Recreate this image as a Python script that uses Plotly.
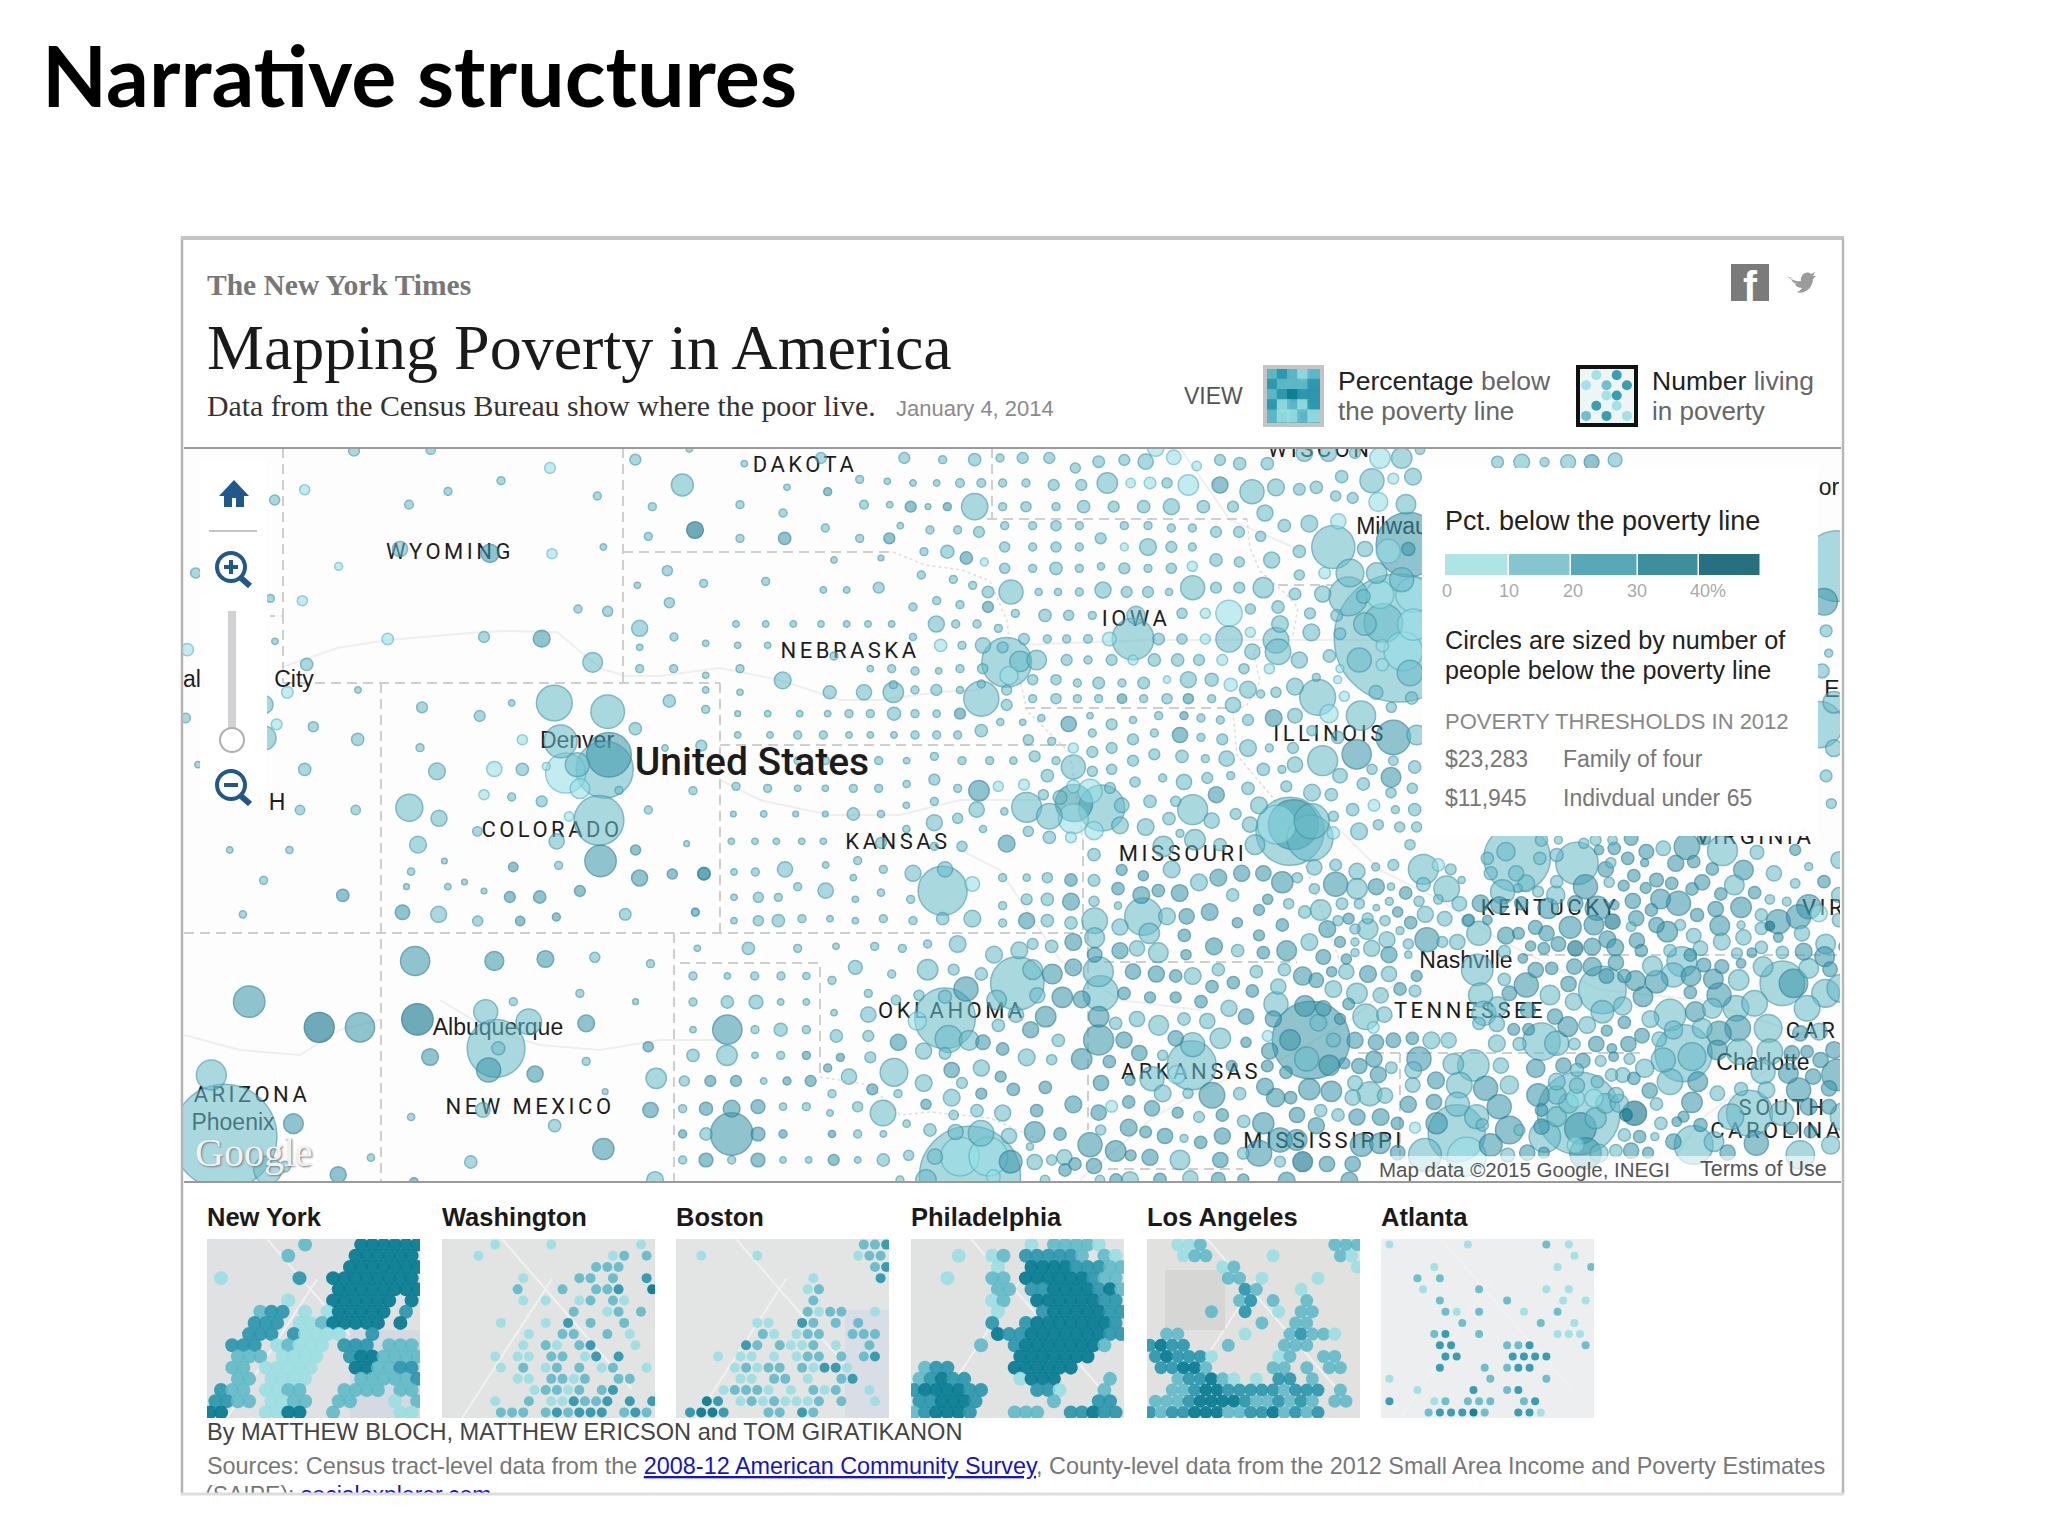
import plotly.graph_objects as go

# ---------------- circles: [map x, map y, radius, poverty tone] ----------------
tile_nw = [[510,8,12,2],[740,5,10,2],[1354,35,12,2],[1098,60,12,1],[951,98,8,2],[792,130,8,2],[675,170,9,2],[362,125,11,1],[272,156,11,2],[1240,144,8,2],[1405,176,8,2],[1393,265,8,2],[1258,297,6,2],[648,303,18,2],[918,316,22,3],[1104,317,11,1],[464,355,8,1],[35,375,11,2],[1360,412,6,2],[355,458,11,1],[259,451,8,2],[1182,483,8,2],[1271,490,11,2],[1367,541,19,2],[900,567,12,2],[1073,572,20,3],[611,573,13,1],[273,580,6,2],[1367,598,6,2],[1226,643,24,2],[368,649,14,2],[1367,662,8,2],[310,733,13,1],[522,726,6,2],[714,778,12,2],[983,765,6,2],[1111,765,46,2],[1271,791,43,2],[887,804,12,2],[1354,842,14,2],[278,829,12,1],[388,836,11,2],[1015,875,11,1],[521,874,14,2],[708,899,8,2],[1130,880,42,2],[1262,965,75,2],[1275,920,58,3],[1145,975,52,1],[1180,950,30,2],[1188,1022,24,1],[1305,1027,8,2],[240,770,22,2],[240,870,30,2],[1087,955,8,1],[362,964,14,2],[759,970,20,2],[931,963,18,1],[1015,964,14,2],[42,950,6,2],[900,1040,11,1],[983,1047,8,2],[1073,1060,12,2],[676,1079,34,2],[348,1086,10,2],[515,1086,10,2],[765,1111,19,2],[1155,1105,10,1],[1245,1117,65,2],[1393,1086,8,2],[880,1150,10,2],[702,1190,20,2],[1118,1180,18,2],[10,605,14,1],[5,810,10,2]]
tile_sw = [[104,300,6,2],[208,300,7,2],[478,333,5,2],[420,365,7,2],[598,351,10,3],[677,346,8,2],[750,333,40,3],[811,300,11,3],[818,384,19,3],[875,372,11,3],[930,372,14,3],[163,391,8,2],[412,410,5,2],[484,410,6,2],[513,396,5,2],[547,423,5,2],[592,441,12,3],[644,441,14,3],[714,423,12,3],[301,436,14,3],[405,487,17,3],[468,493,19,2],[127,493,7,2],[536,513,11,2],[610,513,10,3],[673,501,8,3],[793,493,13,2],[915,487,7,2],[427,633,37,3],[565,633,23,3],[654,627,20,3],[740,622,11,2],[837,641,8,2],[138,755,40,3],[714,730,8,2],[598,755,8,2],[811,755,5,2],[260,832,38,4],[331,832,37,3],[431,808,40,4],[550,785,30,2],[625,815,32,2],[725,820,20,3],[568,895,76,2],[572,895,15,2],[555,960,30,3],[453,921,20,3],[636,972,19,3],[725,934,8,2],[833,890,11,3],[847,985,25,2],[837,1080,18,3],[72,975,38,2],[95,1160,140,2],[170,1260,35,2],[215,1121,24,3],[420,1101,7,2],[758,1025,5,2],[545,1080,17,2],[670,1127,14,2],[755,1197,26,3],[524,1236,14,2],[350,1223,7,2],[293,1274,19,3],[200,1250,12,2],[425,1295,8,3],[845,1290,20,2]]
tile_plains = [[88,3,6,2],[253,47,6,2],[483,30,12,2],[733,30,12,2],[848,35,8,2],[944,35,14,2],[1020,30,8,2],[67,111,27,2],[381,118,6,2],[503,131,8,3],[599,94,8,2],[682,100,6,2],[759,105,6,2],[830,105,6,2],[900,105,9,2],[964,105,9,2],[1028,105,8,2],[240,170,8,2],[612,170,9,2],[689,170,6,2],[752,176,12,3],[804,176,5,2],[862,176,8,3],[944,176,33,2],[1028,176,8,2],[105,246,20,4],[369,195,8,2],[240,271,8,2],[374,271,14,3],[496,240,8,2],[599,271,8,2],[688,271,12,3],[721,233,6,2],[810,246,8,2],[893,246,8,2],[957,252,12,2],[1034,233,8,2],[792,311,8,2],[862,311,15,2],[919,330,14,3],[522,336,6,2],[663,330,5,2],[973,342,8,1],[1034,297,11,2],[1034,361,11,2],[22,368,11,2],[131,406,8,2],[317,400,8,2],[784,381,8,2],[880,394,8,2],[490,426,6,2],[560,426,6,2],[656,419,12,2],[938,412,8,2],[984,432,13,2],[1053,432,30,2],[28,464,11,2],[830,458,8,2],[759,477,8,2],[900,470,8,2],[984,477,12,3],[1066,496,8,2],[228,528,6,2],[317,528,6,2],[400,528,6,2],[483,528,6,2],[560,528,6,2],[624,528,6,2],[695,528,6,2],[829,528,19,2],[887,528,8,2],[951,528,8,2],[1015,541,8,2],[42,567,8,2],[137,586,6,2],[233,592,6,2],[323,592,6,2],[759,567,7,2],[842,592,14,1],[906,592,8,2],[969,592,18,2],[1040,643,65,2],[1047,683,22,1],[1028,598,12,2],[968,662,11,2],[522,624,8,2],[41,662,8,2],[240,662,8,2],[631,662,6,2],[695,662,8,2],[765,669,8,2],[836,669,6,2],[900,662,8,2],[137,682,6,2],[368,697,20,2],[28,759,14,2],[137,726,6,2],[240,733,6,2],[509,733,15,2],[612,733,18,2],[700,733,25,2],[700,710,8,2],[765,726,8,2],[829,726,12,2],[900,726,7,2],[964,752,45,2],[964,708,8,2],[1040,726,11,2],[137,784,8,2],[233,797,5,2],[323,797,6,2],[419,797,6,2],[503,797,6,2],[567,797,8,2],[631,797,8,2],[702,797,15,2],[765,797,8,2],[830,797,7,2],[900,797,12,3],[1040,771,12,2],[233,861,6,2],[330,861,6,2],[413,861,8,2],[490,861,8,2],[567,861,6,2],[631,861,6,2],[702,861,6,2],[765,861,8,2],[830,861,8,2],[893,861,8,2],[964,848,14,2],[1021,822,7,2],[15,900,6,2],[124,893,12,2],[413,938,7,2],[496,938,8,2],[656,938,8,2],[740,938,6,2],[823,925,8,2],[906,938,8,2],[989,938,8,2],[1060,938,7,2],[99,1028,8,2],[228,1015,8,2],[323,1021,8,2],[413,1021,6,2],[496,1021,6,2],[580,1021,8,2],[656,1021,8,2],[740,1008,7,2],[823,995,12,2],[893,1021,8,2],[957,1028,25,3],[1015,1015,11,1],[220,1098,5,2],[311,1098,6,2],[407,1098,5,2],[496,1098,5,2],[580,1098,14,2],[663,1098,7,2],[739,1072,6,2],[823,1060,8,2],[950,1085,18,2],[1033,1090,7,2],[893,1111,11,2],[823,1124,19,2],[739,1143,7,2],[969,1143,7,2],[80,1187,5,2],[214,1180,6,2],[285,1180,6,2],[349,1180,6,2],[425,1180,6,2],[490,1180,6,2],[663,1185,12,2],[906,1195,11,2],[1040,1187,20,3],[823,1195,8,2]]
tile_iowa = [[8,30,12,2],[88,30,12,2],[166,60,11,2],[236,41,13,2],[313,36,12,2],[377,41,18,2],[461,28,17,1],[530,54,10,1],[600,36,12,2],[659,47,14,2],[742,47,14,2],[407,0,20,1],[853,15,20,2],[925,15,20,2],[1005,15,12,2],[1080,30,25,1],[1145,30,25,2],[1200,5,10,2],[18,105,8,2],[101,111,12,2],[184,111,12,2],[262,105,25,2],[332,105,10,1],[390,105,13,1],[441,105,11,2],[505,111,25,1],[600,111,19,3],[696,131,30,2],[768,118,20,2],[838,124,13,2],[889,118,14,2],[965,86,14,2],[1056,98,30,2],[1120,92,12,1],[1179,86,20,2],[18,176,11,2],[108,176,8,2],[191,176,14,2],[281,176,12,2],[371,176,14,2],[454,176,19,2],[550,176,14,2],[639,176,12,2],[735,195,19,2],[947,144,11,2],[998,150,12,2],[1075,162,23,1],[1158,169,24,2],[38,233,8,2],[108,233,11,2],[178,233,8,2],[313,233,8,2],[384,233,8,2],[454,240,8,2],[517,240,8,2],[588,252,12,2],[657,252,12,2],[793,233,14,2],[868,227,20,2],[955,220,18,1],[242,271,12,2],[722,265,11,2],[38,297,8,2],[108,297,11,2],[178,297,8,2],[313,297,8,1],[384,297,20,2],[454,297,12,2],[517,297,8,2],[838,310,14,2],[940,297,56,2],[1165,290,85,3],[1105,310,30,1],[1165,303,15,3],[1035,303,18,2],[588,336,14,2],[658,342,11,2],[755,336,19,2],[38,361,8,2],[108,361,14,2],[178,361,8,2],[243,355,7,2],[313,361,12,2],[384,361,8,2],[454,361,11,2],[517,355,11,1],[838,381,11,2],[914,375,13,1],[990,375,35,2],[56,432,7,2],[114,432,7,2],[178,432,8,2],[249,426,19,2],[320,432,12,2],[384,432,12,2],[447,432,7,2],[518,419,30,2],[588,419,12,2],[658,419,12,2],[730,419,25,2],[825,438,13,2],[908,438,19,2],[985,445,50,2],[1030,445,16,2],[75,502,14,2],[146,502,11,2],[217,502,8,2],[348,502,22,2],[486,496,11,2],[556,496,11,1],[627,496,33,1],[691,483,11,2],[774,477,14,2],[870,496,12,2],[950,502,13,2],[12,573,12,2],[82,573,8,2],[140,573,8,2],[204,573,9,2],[268,573,16,1],[339,573,54,2],[416,573,13,2],[486,573,11,2],[556,573,11,1],[627,573,33,2],[691,553,11,1],[780,528,20,2],[768,577,32,2],[874,553,20,2],[960,557,13,2]]
tile_milwaukee = [[1135,570,172,2],[1145,395,30,2],[1070,375,25,2],[1080,440,35,1],[1180,440,45,1],[1090,525,50,2],[1035,528,28,2],[1150,610,50,1],[1018,636,30,2],[1170,675,32,2],[1087,650,14,1],[1087,593,14,1],[1180,530,40,1]]
tile_illinois = [[0,640,25,2],[50,636,24,2],[140,636,12,2],[204,636,8,2],[275,636,12,2],[339,636,11,1],[403,636,14,2],[473,636,14,2],[537,636,12,2],[607,636,12,1],[697,611,18,2],[774,611,32,2],[838,636,19,2],[928,624,14,2],[672,662,11,2],[748,662,11,1],[960,662,8,1],[38,695,11,2],[108,695,11,2],[172,705,8,2],[236,705,13,2],[306,705,8,2],[371,705,13,2],[441,695,7,1],[505,695,19,2],[575,695,15,2],[632,710,15,1],[684,725,20,2],[825,716,20,2],[889,688,8,2],[953,695,8,1],[722,738,8,2],[768,733,11,2],[893,748,46,2],[973,745,11,1],[1068,733,16,2],[1175,750,14,2],[38,752,8,2],[108,752,11,2],[172,752,8,2],[236,752,8,2],[306,752,10,3],[371,752,8,2],[441,752,11,2],[505,752,11,3],[575,752,8,2],[639,771,18,2],[927,797,22,1],[64,810,7,2],[146,828,18,3],[8,823,6,2],[210,803,6,2],[339,816,7,2],[416,803,8,2],[492,803,8,3],[543,810,8,2],[601,816,8,2],[684,816,12,2],[761,810,20,3],[825,803,17,2],[1023,803,37,2],[1114,778,11,2],[217,855,8,2],[275,829,12,2],[403,855,8,2],[480,861,18,3],[543,868,8,2],[1120,868,44,3],[1190,861,24,2],[25,875,11,2],[95,880,8,2],[339,874,12,2],[607,874,12,2],[876,848,11,2],[953,868,14,2],[160,900,11,1],[217,912,12,2],[275,900,12,2],[684,900,20,2],[748,900,8,2],[819,900,12,2],[44,925,12,2],[108,938,8,2],[160,957,30,2],[339,938,12,2],[403,919,12,2],[486,925,14,2],[556,932,8,2],[620,932,18,2],[908,938,38,2],[1010,919,37,3],[1120,938,10,2],[82,983,14,2],[217,970,11,2],[275,964,11,2],[730,964,14,2],[786,964,8,2],[825,950,18,2],[960,983,17,2],[1056,964,11,2],[1113,988,24,3],[1184,957,14,2],[12,1010,12,1],[345,1002,11,2],[428,990,8,2],[492,1002,18,2],[562,990,12,2],[632,983,8,2],[684,1021,14,2],[799,1015,12,2],[1030,1008,14,2],[1177,1021,11,2],[1113,1034,11,2],[20,1078,38,2],[88,1105,32,2],[160,1112,38,1],[162,1065,48,3],[210,1030,30,1],[160,1015,15,1],[120,1048,16,2],[245,1080,60,2],[270,1020,12,2],[305,1072,17,2],[300,1132,20,2],[222,1148,22,1],[70,1040,11,2],[390,1060,14,2],[467,1060,11,2],[518,1085,38,2],[589,1040,19,3],[647,1098,12,2],[717,1072,20,2],[447,1112,14,2],[377,1137,20,2],[575,1118,18,2],[690,1130,18,2],[810,1150,90,2],[770,1130,50,1],[820,1130,65,3],[875,1120,45,2],[870,1170,60,2],[940,1105,11,2],[876,1034,20,2],[934,1040,14,2],[998,1085,14,2],[1062,1072,13,1],[1126,1085,8,2],[1184,1085,14,2],[1075,1130,11,2],[1017,1150,20,2],[940,1155,14,1],[1139,1137,11,2],[1190,1137,11,2],[25,1150,11,2],[88,1168,14,2],[153,1168,12,1],[480,1156,8,2],[525,1175,25,2],[430,1195,25,2],[705,1190,24,2],[1170,1190,11,2],[600,1190,14,2]]
tile_edge = [[725,587,10,2],[762,587,14,2],[797,587,7,2],[833,587,13,2],[869,587,13,3],[905,582,12,2],[1245,820,70,2],[1225,900,25,3],[1228,965,10,2],[1232,1015,6,2],[1222,1055,12,2],[1240,1125,20,2],[1218,1175,45,2],[1240,1228,15,2],[1228,1290,10,2],[1236,1352,8,2]]
tile_oklahoma = [[72,100,14,3],[162,96,6,2],[226,96,8,2],[315,88,18,2],[437,75,6,2],[533,62,8,2],[610,88,8,2],[520,113,6,2],[699,100,19,2],[788,152,64,2],[795,88,18,2],[877,132,17,1],[968,113,8,2],[1040,113,7,2],[1102,113,11,2],[1173,120,14,3],[162,172,6,2],[235,172,11,2],[295,172,8,2],[353,140,8,2],[437,152,18,2],[526,178,6,2],[603,158,7,2],[692,178,8,2],[968,197,8,2],[1040,178,12,2],[1102,178,14,2],[1173,185,20,3],[46,216,8,2],[162,242,6,2],[235,242,11,2],[295,242,14,2],[366,236,8,2],[450,236,6,2],[526,242,6,2],[610,236,8,2],[699,242,8,2],[788,236,14,2],[877,236,20,2],[968,249,8,2],[1040,242,19,3],[1102,242,14,2],[1173,249,14,2],[52,325,6,2],[205,325,14,2],[353,325,8,2],[468,319,6,2],[584,319,8,2],[667,325,8,2],[743,312,8,2],[833,312,20,2],[942,344,20,2],[1018,331,20,2],[1058,312,12,2],[1115,319,14,2],[1180,306,20,3],[526,382,16,2],[743,389,25,2],[821,389,12,2],[904,402,14,2],[1012,430,70,2],[1058,389,24,2],[1117,402,24,3],[1180,382,20,3],[39,408,8,2],[142,408,6,2],[224,408,8,2],[303,408,8,2],[379,408,7,2],[456,421,8,2],[635,402,8,2],[858,447,30,3],[565,460,8,2],[648,480,10,2],[717,466,11,2],[795,470,15,2],[950,480,24,2],[1072,466,18,2],[1147,472,25,3],[39,486,8,2],[142,486,14,2],[228,486,16,2],[302,486,6,2],[379,486,6,2],[462,518,6,2],[565,524,18,2],[795,535,80,2],[712,543,22,1],[806,597,34,2],[867,601,24,2],[1008,524,18,2],[1097,530,25,3],[142,569,37,3],[225,569,8,2],[302,569,15,2],[379,569,8,2],[39,569,6,2],[955,556,14,2],[1052,569,19,3],[469,588,14,2],[565,588,12,2],[655,607,19,3],[909,607,17,3],[1135,601,14,2],[795,640,13,2],[141,646,25,2],[39,646,14,2],[225,646,6,2],[302,646,8,2],[379,646,8,3],[481,652,8,3],[571,652,12,2],[731,633,19,2],[968,627,14,3],[1040,652,20,2],[1115,659,11,2],[443,684,8,3],[642,697,35,2],[815,690,18,3],[904,684,19,2],[507,710,18,2],[962,710,12,3],[13,723,11,2],[91,723,12,3],[168,723,12,3],[251,723,6,2],[321,723,8,3],[392,723,12,3],[731,729,20,2],[846,729,12,2],[1000,748,14,3],[1096,742,14,3],[456,761,8,2],[577,748,12,3],[654,761,8,2],[904,761,12,3],[815,773,20,2],[8,806,8,2],[78,806,15,3],[155,806,20,3],[234,800,16,3],[309,800,7,2],[379,800,8,2],[533,800,11,2],[609,819,32,2],[738,793,11,3],[891,812,14,2],[968,819,19,2],[1070,812,14,3],[1180,793,20,3],[450,819,6,2],[821,825,10,2],[680,851,7,2],[155,882,55,3],[8,882,8,3],[78,882,14,2],[234,882,16,3],[309,882,8,3],[456,882,7,3],[533,882,8,2],[610,882,6,2],[750,870,14,2],[870,1010,135,2],[827,876,18,2],[903,880,32,2],[987,888,18,2],[1064,876,25,3],[1140,882,14,3],[840,950,50,1],[925,950,50,1],[765,950,18,2],[992,965,28,3],[738,1020,25,2],[940,1010,16,1],[8,960,8,2],[78,960,16,3],[155,960,8,2],[234,960,16,3],[309,960,6,2],[386,960,6,2],[461,960,12,3],[533,960,6,2],[610,960,14,2],[686,946,11,2],[1050,920,7,2],[1064,966,18,2],[1115,960,11,2],[1153,952,18,2],[1185,972,14,3],[1155,990,14,3],[660,1020,8,2],[1095,1020,10,2]]
tile_delta = [[42,44,14,2],[125,90,12,3],[190,107,11,3],[275,88,20,2],[357,127,20,2],[415,113,20,3],[485,100,19,3],[550,100,18,3],[607,127,26,3],[652,113,11,2],[703,82,18,2],[767,75,13,2],[831,94,19,2],[887,81,8,2],[940,75,12,2],[1030,88,38,2],[1075,75,14,1],[1112,88,12,2],[42,121,13,2],[114,146,14,3],[184,165,20,3],[235,152,14,3],[299,159,20,3],[458,165,14,2],[703,146,11,2],[767,133,30,3],[831,146,25,2],[889,140,19,3],[933,140,7,2],[977,159,14,3],[1030,133,16,2],[1100,146,32,2],[1145,120,7,2],[42,184,11,2],[114,197,7,2],[190,230,48,2],[261,229,20,2],[320,229,18,3],[389,216,20,3],[563,178,11,3],[626,191,11,2],[537,210,12,3],[674,216,14,2],[722,210,25,2],[786,191,13,2],[838,191,11,2],[928,184,8,2],[889,203,6,2],[953,216,11,3],[1017,184,11,2],[1075,178,10,2],[1138,191,17,2],[1036,223,19,2],[44,242,32,2],[120,261,19,2],[208,280,25,2],[472,248,11,3],[607,255,14,3],[774,242,11,2],[806,236,12,3],[742,267,20,3],[825,267,11,2],[863,267,25,2],[863,235,12,2],[915,242,11,2],[992,248,14,3],[1094,236,17,2],[1163,242,13,2],[44,293,24,2],[313,286,14,3],[537,286,12,3],[960,272,8,2],[120,332,19,3],[171,325,18,2],[235,338,24,2],[402,319,20,3],[473,332,14,2],[550,338,14,3],[620,332,24,3],[688,306,20,2],[780,306,12,3],[825,306,8,2],[921,299,19,2],[985,312,11,2],[1041,299,30,3],[1087,306,12,2],[1132,306,18,2],[875,325,19,2],[44,344,17,3],[318,344,11,3],[730,351,17,3],[799,357,11,3],[825,338,8,2],[927,344,19,3],[985,344,7,2],[55,395,38,2],[159,395,18,3],[229,402,19,3],[287,408,14,3],[338,408,20,2],[415,389,14,2],[529,395,14,2],[613,389,14,2],[668,408,22,3],[755,395,11,3],[799,395,18,2],[864,402,20,3],[927,402,18,2],[709,421,17,3],[1010,408,12,3],[62,460,45,2],[132,460,14,3],[210,472,12,3],[287,472,12,3],[396,440,14,3],[460,428,14,3],[517,453,14,3],[595,440,18,2],[760,447,20,2],[831,460,25,2],[902,466,18,2],[960,447,14,3],[1005,453,13,2],[5,478,20,3],[363,485,14,3],[447,505,19,2],[588,492,30,2],[806,492,13,3],[857,530,32,2],[913,524,18,2],[675,498,25,3],[730,505,18,3],[56,530,25,3],[107,550,14,2],[171,537,18,2],[236,556,24,2],[312,537,14,2],[382,543,18,2],[498,530,18,3],[580,537,19,3],[780,537,12,3],[56,600,38,3],[132,600,19,3],[287,595,18,3],[338,614,30,2],[421,595,25,2],[498,607,11,3],[563,588,12,1],[693,600,103,3],[630,600,25,3],[715,548,20,2],[760,600,16,2],[680,657,30,2],[748,676,25,3],[825,601,19,3],[888,607,18,3],[940,601,17,3],[997,595,14,3],[1054,601,20,2],[1106,601,18,2],[880,562,13,1],[5,657,25,3],[178,639,18,3],[88,665,14,3],[569,633,19,3],[248,646,11,2],[335,676,64,2],[562,678,13,3],[793,670,12,3],[838,678,18,3],[882,657,19,3],[1017,657,30,3],[934,683,13,2],[1000,690,20,2],[998,735,17,2],[1120,672,25,2],[1180,676,40,2],[150,721,11,3],[63,729,18,3],[216,716,30,2],[290,704,22,1],[396,766,32,3],[248,760,20,2],[324,760,11,2],[479,761,14,2],[455,678,12,3],[555,740,20,3],[587,773,22,3],[632,773,14,3],[618,697,14,3],[688,748,26,3],[754,754,25,3],[895,704,19,3],[825,729,17,2],[818,773,18,2],[869,761,30,2],[915,767,18,2],[1068,721,20,3],[1138,735,32,2],[146,786,14,3],[95,799,13,1],[216,805,18,3],[56,818,18,3],[293,818,12,3],[357,831,12,2],[427,825,14,3],[651,825,18,3],[722,812,14,2],[774,825,14,2],[831,831,19,3],[902,831,20,3],[985,793,19,3],[1062,786,18,3],[1132,793,30,2],[550,850,26,3],[491,844,14,2],[709,857,19,3],[952,850,14,3],[1005,863,12,1],[1070,850,26,3],[146,863,20,3],[62,870,11,2],[197,876,13,3],[255,888,18,3],[312,895,8,2],[427,888,19,3],[600,900,30,3],[650,900,25,3],[1130,880,75,2],[1190,830,30,2],[30,914,30,3],[107,933,25,3],[152,946,12,3],[210,952,19,3],[300,960,24,2],[362,907,14,3],[421,960,18,3],[537,940,32,3],[490,940,13,2],[600,965,12,2],[668,965,24,4],[741,972,18,3],[818,972,18,3],[845,915,28,3],[900,910,25,3],[953,938,17,3],[1035,945,42,2],[1160,950,50,1],[42,978,18,3],[108,1020,14,3],[240,1018,14,3],[331,1015,18,2],[415,1018,16,3],[620,1022,20,3],[808,1022,20,3],[490,1018,12,3],[60,1020,10,2],[150,1020,20,2]]
tile_southeast = [[228,115,88,2],[195,95,22,2],[225,160,18,2],[300,60,14,2],[140,115,14,2],[255,190,20,2],[295,115,14,2],[185,215,30,2],[150,160,15,2],[405,130,55,2],[430,200,30,3],[345,105,15,2],[350,60,8,2],[425,70,11,2],[470,90,10,3],[515,85,14,3],[460,60,12,2],[510,60,10,2],[565,55,16,3],[610,95,17,3],[660,85,17,2],[730,80,32,3],[780,55,15,3],[835,92,38,2],[937,97,16,2],[1050,90,12,3],[490,148,18,3],[505,128,11,2],[555,115,14,3],[605,128,8,3],[697,130,19,3],[750,125,14,3],[805,147,14,3],[897,150,24,3],[987,160,18,2],[1090,140,8,2],[1135,185,14,3],[1050,190,10,2],[1180,120,20,2],[500,187,11,2],[573,167,14,3],[640,180,16,3],[685,190,14,3],[775,187,18,3],[870,195,24,2],[345,185,14,2],[342,225,22,2],[290,215,12,2],[230,205,9,2],[543,197,12,3],[608,204,12,3],[745,207,14,3],[830,222,14,3],[930,218,14,3],[1180,225,18,2],[120,250,20,3],[175,255,20,3],[240,250,15,3],[320,265,25,3],[400,250,18,3],[465,265,30,3],[515,255,10,3],[570,243,18,3],[652,237,24,3],[705,250,30,3],[760,285,15,3],[815,267,18,3],[890,262,25,3],[975,238,10,2],[1025,245,9,2],[1090,260,30,3],[950,285,14,2],[140,300,10,3],[85,300,13,3],[510,305,18,4],[385,322,27,3],[455,315,24,3],[580,295,18,3],[625,270,14,3],[640,315,18,3],[672,335,25,3],[710,315,12,2],[1000,305,30,3],[890,315,8,2],[827,317,24,3],[1060,290,30,3],[1120,280,20,1],[1180,300,16,2],[115,340,30,2],[282,322,16,3],[315,340,18,3],[195,347,20,3],[232,340,13,3],[565,320,10,2],[750,347,17,2],[950,325,14,2],[975,318,10,4],[1070,340,18,2],[1000,352,10,3],[897,352,18,2],[350,372,17,3],[268,378,11,3],[307,385,13,3],[190,395,14,2],[400,385,18,4],[450,380,20,3],[495,358,20,3],[518,382,20,3],[582,362,18,3],[595,392,14,3],[833,365,20,2],[770,385,17,2],[680,392,14,2],[950,382,14,2],[1140,372,24,2],[1075,395,20,3],[1137,410,24,3],[878,400,12,2],[922,398,10,3],[1012,397,14,2],[1195,380,12,3],[110,450,40,2],[245,415,10,3],[283,450,18,3],[330,445,14,3],[397,440,18,3],[450,440,22,3],[520,428,18,3],[715,425,38,2],[740,405,14,3],[628,438,24,2],[780,435,16,3],[833,440,16,3],[890,430,10,3],[955,440,24,2],[1012,490,58,2],[1045,490,36,3],[1090,445,24,2],[1153,448,17,3],[255,495,30,3],[190,478,14,2],[380,492,18,3],[480,510,62,2],[492,468,17,3],[545,468,15,3],[578,482,24,3],[640,485,28,3],[690,465,30,2],[742,468,24,3],[808,477,24,3],[883,480,25,2],[1140,520,35,2],[205,520,17,3],[325,525,24,2],[395,545,20,2],[600,530,24,3],[740,517,14,3],[825,525,30,3],[1085,565,32,2],[1185,505,35,2],[120,525,30,2],[130,580,30,2],[170,560,24,2],[260,570,18,3],[480,575,28,2],[540,558,22,2],[680,585,40,2],[755,575,24,3],[805,565,24,2],[875,565,32,2],[930,550,32,2],[340,590,18,3],[378,620,24,3],[435,615,20,2],[115,610,14,2],[168,612,18,2],[545,607,14,3],[622,597,20,2],[775,625,24,2],[825,640,30,3],[880,625,32,3],[970,625,35,2],[1065,640,18,3],[1120,635,20,2],[218,628,13,3],[262,628,13,3],[493,632,12,3],[597,647,17,3],[690,630,22,2],[300,665,48,2],[345,670,30,2],[168,670,20,2],[235,672,15,2],[397,672,13,2],[462,672,18,3],[557,672,18,3],[648,658,17,2],[720,700,75,2],[745,710,35,2],[660,720,30,2],[820,690,24,3],[885,695,32,2],[975,695,32,2],[1040,700,18,3],[1085,695,14,3],[1165,690,20,3],[1125,720,18,3],[180,737,18,2],[508,685,10,3],[513,710,10,3],[422,722,17,3],[475,723,12,2],[560,717,12,2],[365,737,18,3],[283,745,22,3],[405,750,15,2],[605,745,22,2],[1175,765,40,3],[955,755,30,2],[1030,760,24,3],[1103,770,18,3],[135,805,30,3],[205,795,22,2],[345,785,20,2],[405,797,18,2],[465,785,14,2],[507,765,14,2],[540,765,17,2],[573,775,14,3],[620,812,18,3],[680,785,32,2],[762,785,24,3],[290,825,28,3],[890,807,15,2],[965,810,20,2],[1060,810,30,3],[1150,805,18,3],[175,860,30,3],[410,880,110,2],[400,835,22,1],[455,835,22,1],[345,825,22,2],[520,825,18,2],[640,852,14,2],[745,847,25,3],[820,820,17,2],[915,880,60,2],[860,890,32,2],[1010,880,30,2],[1090,860,20,3],[1150,860,17,3],[1195,890,35,2],[345,890,24,2],[460,895,26,2],[415,925,40,3],[300,920,18,3],[530,850,22,2],[575,880,30,4],[550,885,14,4],[300,870,14,3],[490,850,24,2],[380,850,24,2],[125,915,14,2],[205,930,35,3],[150,975,28,3],[235,930,12,2],[700,905,10,3],[720,890,12,3],[653,910,14,2],[770,915,15,3],[690,965,18,3],[750,975,50,2],[810,965,24,2],[935,970,30,3],[1040,925,14,3],[1095,935,14,3],[1155,975,22,2],[1065,1005,36,2],[310,950,40,2],[400,975,20,1],[545,945,14,2],[590,950,14,3],[635,950,8,2],[520,992,14,2],[565,992,18,3],[615,998,12,3],[258,998,18,3],[307,998,12,3],[200,1005,16,2],[850,998,18,3],[430,1000,40,3],[470,1000,22,2]]

# origin and scale of each map sheet: sheet rows, left, top, x per image px, y per image px
MAP_SHEETS = [
    (tile_nw, 184, 448, 3, 3), (tile_sw, 170, 750, 1.742, 3), (tile_plains, 660, 448, 3, 3),
    (tile_iowa, 1020, 448, 3, 3), (tile_milwaukee, 1020, 448, 3, 3), (tile_illinois, 1020, 448, 3, 3),
    (tile_edge, 1024, 200, 1.531, 2.24), (tile_oklahoma, 680, 840, 3, 3), (tile_delta, 1080, 840, 3, 3),
    (tile_southeast, 1440, 820, 2.956, 3),
]
TONE_FILL = {1: "rgba(150,222,230,0.80)", 2: "rgba(105,188,200,0.80)", 3: "rgba(62,152,172,0.82)", 4: "rgba(22,120,142,0.88)"}
TONE_EDGE = {1: "rgba(95,182,194,0.95)", 2: "rgba(68,152,168,0.95)", 3: "rgba(44,128,150,0.95)", 4: "rgba(18,104,126,0.95)"}

# ---------------- city thumbnails (poverty tone per map cell, 0 = none) ----------------
thumb_names = ["New York", "Washington", "Boston", "Philadelphia", "Los Angeles", "Atlanta"]
thumb_left = [207, 442, 676, 911, 1147, 1381]
thumb_new_york = ["0000000020000444444","0000000200000444444","0000000000004444444","0100000030044444444","0000000000044444444","0000000100044444404","0000233010144444030","0000333011244444040","0003330311110030000","0033301211103330222","0022201111003442222","0022011111000442233","0022011110000222223","0322011220002222022","3322011220022000102","4400011440020000011"]
thumb_washington = ["0000100001000000010","0001000000000001202","0000000000000222000","0000000100002202003","0000002000200223004","0000000101001202100","0000000000020012020","0000010001030200200","0000000100220020100","0000000102102300010","0000101102201303000","0000010201202012001","0000001102212002200","0000000012212023000","0000100201132230303","0000022202323330232"]
thumb_boston = ["0000000000000000223","0010000100000000122","0000000000000000023","0000000000001000003","0000000000012000000","0000000000002000000","0000000000021220010","0000000110032020200","0000000210122002220","0000003202112010020","0001011010122020230","0000012122021331000","0000011022010023000","0000122210102120010","0043012121112020010","0344300022032000000"]
thumb_philadelphia = ["0000000000102222100","0000100120333332021","0000000100444433322","0001000220444444322","0000000220334444342","0000000120044444433","0000000100034444433","0000000300344444443","0000000433444444433","0000002003444444420","0000000004444444000","0233000004444440000","2343300001444000020","3444433000033100020","3344430000002000330","2344430002220033433"]
thumb_los_angeles = ["0011200000000000222","0001220000010000021","0000001200000000001","0000000220100001000","0000000032000100000","0000000023020020000","0000020030010220000","0000000000200220000","0220000010002322100","3433000200002220000","3433310000012002200","0334420000022020220","0023342101033020000","0022344333332333020","2223444432232320220","3233444223342323000"]
thumb_atlanta = ["1000000100000020100","0000000000000000010","0000100000000001002","0002020000000000000","0001000020000010100","0000020000020000101","0000021020001002000","0000000200000020010","0000230020000001110","0000033000022300002","0000033000033330000","0000030002023300000","1000000002000020000","0001000030023000000","3000120222002300000","0000233342003310000"]
thumb_grids = [thumb_new_york, thumb_washington, thumb_boston, thumb_philadelphia, thumb_los_angeles, thumb_atlanta]
thumb_bg = ["#dfe1e2", "#e2e3e3", "#e3e4e4", "#e1e2e2", "#e1e1e0", "#eceeef"]
thumb_mark = [14, 10, 10, 14, 13, 8]
THUMB_FILL = {1: "rgba(150,222,226,0.85)", 2: "rgba(92,184,198,0.88)", 3: "rgba(42,150,172,0.92)", 4: "rgba(10,124,146,0.95)"}

view_percent = ["23212", "32223", "23433", "31213", "21121"]
view_number = ["01030", "10203", "00130", "03010", "20301"]

# ---------------- map labels ----------------
state_labels = ["WYOMING", "DAKOTA", "NEBRASKA", "COLORADO", "KANSAS", "IOWA", "ILLINOIS", "WISCON", "MISSOURI", "KENTUCKY", "OKLAHOMA", "ARKANSAS", "TENNESSEE", "MISSISSIPPI", "NEW MEXICO", "ARIZONA", "VIR", "CAR", "SOUTH", "CAROLINA", "VIRGINIA"]
state_x = [450, 805, 850, 552, 898, 1136, 1330, 1320, 1183, 1550, 952, 1191, 1470, 1324, 530, 252, 1824, 1812, 1783, 1777, 1755]
state_y = [553, 466, 652, 831, 843, 620, 735, 451, 855, 909, 1012, 1073, 1012, 1142, 1108, 1096, 909, 1032, 1109, 1132, 838]
city_labels = ["City", "al", "H", "Denver", "Albuquerque", "Nashville", "Charlotte", "Milwau", "Phoenix", "or", "E"]
city_x = [294, 192, 277, 577, 498, 1466, 1763, 1392, 233, 1829, 1832]
city_y = [681, 681, 804, 742, 1029, 962, 1064, 528, 1124, 489, 691]

# ---------------- state borders, roads and rivers (image units) ----------------
border_lines = [
    ([283, 283, 270, 283, 283], [448, 616, 616, 616, 683]), ([623, 623], [448, 683]),
    ([283, 720], [683, 683]), ([720, 720], [683, 933]), ([720, 1070], [745, 745]),
    ([184, 1083], [933, 933]), ([623, 893], [552, 552]), ([1025, 1227], [708, 708]),
    ([987, 1247], [519, 519]), ([992, 992], [448, 519]), ([381, 381], [683, 1181]),
    ([674, 674], [933, 1181]), ([680, 820, 820], [963, 963, 1077]), ([1083, 1083, 1088, 1088], [840, 933, 933, 1130]),
    ([1088, 1297], [962, 962]), ([1108, 1243], [1169, 1169]), ([1523, 1840], [955, 955]),
    ([1358, 1640], [1053, 1053]), ([1400, 1400], [1053, 1170]), ([1278, 1332], [585, 585]),
]
river_lines = [
    ([990, 1007, 1010, 1022, 1027, 1070, 1083], [581, 621, 648, 688, 711, 753, 840]),
    ([1247, 1250, 1260, 1287, 1298, 1293, 1253, 1260, 1247, 1233, 1237, 1273, 1300, 1340], [519, 548, 571, 595, 608, 635, 651, 681, 705, 711, 755, 798, 850, 962]),
    ([820, 870, 900, 930, 990, 1040], [1077, 1085, 1115, 1112, 1118, 1140]),
    ([893, 925, 962, 990], [552, 565, 570, 581]),
]
road_lines = [
    ([283, 337, 388, 470, 504, 557, 600, 625, 660, 683, 720, 780, 840, 880, 940, 980], [667, 648, 640, 633, 631, 632, 668, 676, 676, 673, 668, 680, 700, 700, 692, 690]),
    ([440, 490, 540, 600, 660, 720], [1000, 1030, 1045, 1050, 1040, 1040]),
    ([184, 240, 300, 340, 380], [1035, 1050, 1055, 1030, 1020]),
    ([720, 760, 830, 900, 960, 1050, 1083], [780, 800, 815, 815, 800, 800, 790]),
    ([1080, 1150, 1200, 1280, 1350, 1400], [1180, 1120, 1090, 1060, 1020, 980]),
    ([1020, 1150, 1250, 1330, 1380], [645, 640, 640, 640, 640]),
    ([960, 1000, 1060, 1120, 1200], [850, 870, 960, 1000, 1010]),
    ([1340, 1380, 1440, 1500, 1600, 1700, 1820], [830, 870, 900, 940, 990, 1000, 1040]),
    ([1660, 1700, 1780, 1830], [1180, 1120, 1060, 1000]),
    ([1180, 1230, 1300], [448, 520, 550]),
]

# ---------------- legend ----------------
legend_edges = [1445, 1509, 1571, 1638, 1699, 1761]
legend_colors = ["#aee4e4", "#85c5d0", "#58a8b8", "#3e8e9c", "#27707f"]
legend_ticks = ["0", "10", "20", "30", "40%"]
legend_tick_x = [1447, 1509, 1573, 1637, 1708]

# ---------------- build map arrays ----------------
map_rows = []
for rows, left, top, sx, sy in MAP_SHEETS:
    for mx, my, rad, tone in rows:
        map_rows.append((left + mx / sx, top + my / sy, rad / sy, tone))
map_rows.sort(key=lambda row: -row[2])

fig = go.Figure()

for xs, ys in road_lines:
    fig.add_trace(go.Scatter(x=xs, y=ys, mode="lines", line=dict(color="#efefef", width=2), hoverinfo="skip"))
for xs, ys in river_lines:
    fig.add_trace(go.Scatter(x=xs, y=ys, mode="lines", line=dict(color="#dedede", width=1.5, dash="3px,3px"), hoverinfo="skip"))
for xs, ys in border_lines:
    fig.add_trace(go.Scatter(x=xs, y=ys, mode="lines", line=dict(color="#cfcfcf", width=2, dash="10px,6px"), hoverinfo="skip"))

# labels lie under the translucent circles, as on the map
fig.add_trace(go.Scatter(x=state_x, y=state_y, mode="text", text=state_labels, textposition="middle center",
                         textfont=dict(family="Roboto", size=22, color="#1e1e1e"), hoverinfo="skip"))
fig.add_trace(go.Scatter(x=city_x, y=city_y, mode="text", text=city_labels, textposition="middle center",
                         textfont=dict(family="Liberation Sans", size=23, color="#1e1e1e"), hoverinfo="skip"))

fig.add_trace(go.Scatter(
    x=[row[0] for row in map_rows], y=[row[1] for row in map_rows], mode="markers",
    marker=dict(size=[2 * (row[2] * 1.1 + 1.0) for row in map_rows], sizemode="diameter",
                color=[TONE_FILL[row[3]] for row in map_rows],
                line=dict(width=1.5, color=[TONE_EDGE[row[3]] for row in map_rows])),
    hoverinfo="skip"))

fig.add_trace(go.Scatter(x=[752], y=[765], mode="text", text=["United States"], textposition="middle center",
                         textfont=dict(family="Roboto", size=39, weight=500, color="#1c1c1c"), hoverinfo="skip"))
fig.add_trace(go.Scatter(x=[205], y=[1497], mode="text",
                         text=['(SAIPE); <span style="color:#1414c8"><u>socialexplorer.com</u></span>'],
                         textposition="middle right",
                         textfont=dict(family="Liberation Sans", size=23, color="#777777"), hoverinfo="skip"))

# thumbnails
THUMB_TOP, THUMB_W, THUMB_H = 1239, 213, 179
for left, grid, mark in zip(thumb_left, thumb_grids, thumb_mark):
    tx, ty, tc = [], [], []
    for r, row in enumerate(grid):
        for c, ch in enumerate(row):
            if ch != "0":
                tx.append(left + (c + (0.25 if r % 2 else 0.75)) * THUMB_W / 19)
                ty.append(THUMB_TOP + (r + 0.5) * THUMB_H / 16)
                tc.append(THUMB_FILL[int(ch)])
    fig.add_trace(go.Scatter(x=tx, y=ty, mode="markers", marker=dict(size=mark, color=tc, line=dict(width=0)), hoverinfo="skip"))

# view icons
for left, top, grid, mark in [(1268, 370, view_percent, 13), (1581, 370, view_number, 10)]:
    tx, ty, tc = [], [], []
    for r, row in enumerate(grid):
        for c, ch in enumerate(row):
            if ch != "0":
                tx.append(left + (c + 0.5) * 10.2)
                ty.append(top + (r + 0.5) * 10.2)
                tc.append(THUMB_FILL[int(ch)])
    fig.add_trace(go.Scatter(x=tx, y=ty, mode="markers", marker=dict(size=mark, symbol="square" if mark == 13 else "circle", color=tc, line=dict(width=0)), hoverinfo="skip"))

shapes = []
def rect(x0, y0, x1, y1, fill, line=None, lw=0, layer="above"):
    shapes.append(dict(type="rect", x0=x0, y0=y0, x1=x1, y1=y1, xref="x", yref="y", layer=layer,
                       fillcolor=fill, line=dict(color=line or "rgba(0,0,0,0)", width=lw)))
def seg(x0, y0, x1, y1, color, lw, layer="above"):
    shapes.append(dict(type="line", x0=x0, y0=y0, x1=x1, y1=y1, xref="x", yref="y", layer=layer, line=dict(color=color, width=lw)))
def path(d, fill, layer="above"):
    shapes.append(dict(type="path", path=d, xref="x", yref="y", layer=layer, fillcolor=fill, line=dict(width=0)))
def circle(cx, cy, r, fill, line, lw):
    shapes.append(dict(type="circle", x0=cx - r, y0=cy - r, x1=cx + r, y1=cy + r, xref="x", yref="y", layer="above", fillcolor=fill, line=dict(color=line, width=lw)))

# map base sits under everything
rect(184, 448, 1840, 1181, "#fdfdfd", layer="below")
# thumbnail backgrounds
for left, bg in zip(thumb_left, thumb_bg):
    rect(left, THUMB_TOP, left + THUMB_W, THUMB_TOP + THUMB_H, bg, layer="below")
    seg(left + 20, THUMB_TOP + 179, left + 110, THUMB_TOP + 40, "#f1f1f1", 2, layer="below")
    seg(left + 60, THUMB_TOP, left + 190, THUMB_TOP + 150, "#f1f1f1", 2, layer="below")
rect(1165, 1270, 1225, 1330, "#d6d6d4", layer="below")
rect(845, 1310, 889, 1418, "#d9dde6", layer="below")
rect(350, 1330, 420, 1418, "#d5d9e2", layer="below")
rect(1267, 369, 1320, 423, "#5eaab8", layer="below")
rect(1580, 369, 1634, 423, "#eef5f5", layer="below")
# masks that clip the map
rect(170, 426, 1890, 447, "#ffffff")
rect(170, 1182, 1890, 1238, "#ffffff")
rect(200, 460, 267, 800, "#ffffff")
rect(1422, 468, 1818, 836, "rgba(255,255,255,0.99)")
rect(1840, 426, 1890, 1190, "#ffffff")
rect(170, 426, 183, 1190, "#ffffff")
rect(1374, 1156, 1840, 1181, "rgba(255,255,255,0.62)")
rect(170, 1494, 1890, 1510, "#ffffff")
# thumbnail clipping
gap_edges = [183] + [v for left in thumb_left for v in (left, left + THUMB_W)] + [1842]
for a, b in zip(gap_edges[0::2], gap_edges[1::2]):
    rect(a, 1228, b, 1420, "#ffffff")
rect(183, 1228, 1842, 1239, "#ffffff")
rect(183, 1418, 1842, 1422, "#ffffff")
# panel frame
seg(182, 238, 182, 1494, "#b4b4b4", 2.5)
seg(181, 238, 1844, 238, "#c4c4c4", 4)
seg(1843, 238, 1843, 1494, "#b8b8b8", 2.5)
seg(181, 1494, 1844, 1494, "#dddddd", 3)
seg(184, 448, 1841, 448, "#9a9a9a", 2)
seg(184, 1182, 1841, 1182, "#9a9a9a", 2)
# legend swatches
for a, b, colour in zip(legend_edges[:-1], legend_edges[1:], legend_colors):
    rect(a, 554, b - 1.5, 575, colour)
# view icon frames
rect(1265, 367, 1322, 425, "rgba(0,0,0,0)", "#c4c4c4", 4)
rect(1578, 367, 1636, 425, "rgba(0,0,0,0)", "#101010", 4)
# facebook + twitter
rect(1731, 264, 1769, 301, "#7b7b7b")
path("M 1786 276 C 1792 280 1797 282 1801 281 C 1800 275 1806 270 1811 274 L 1815 272 L 1813 276 L 1816 276 L 1813 279 C 1813 288 1804 295 1797 292 C 1799 291 1801 290 1802 288 C 1798 288 1795 285 1795 284 L 1797 284 C 1793 283 1791 280 1791 278 L 1793 278 C 1789 277 1787 277 1786 276 Z", "#9b9b9b")
# map controls
NAVY = "#20588c"
path("M 234 480 L 249 496 L 244 496 L 244 507 L 236 507 L 236 498 L 232 498 L 232 507 L 224 507 L 224 496 L 219 496 Z", NAVY)
seg(209, 531, 257, 531, "#c4c4c4", 2)
circle(231, 567, 14, "#ffffff", NAVY, 4)
seg(241, 578, 250, 586, NAVY, 6)
seg(224, 567, 238, 567, NAVY, 4)
seg(231, 560, 231, 574, NAVY, 4)
rect(228, 611, 236, 730, "#d2d2d4")
circle(232, 740, 12, "#ffffff", "#b0b0b0", 2)
circle(231, 785, 14, "#ffffff", NAVY, 4)
seg(241, 796, 250, 804, NAVY, 6)
seg(224, 785, 238, 785, NAVY, 4)

ann = []
def text(x, y, s, size, color, family="Liberation Sans", anchor="left", **font):
    ann.append(dict(x=x - 2.5 if anchor == "left" else x, y=y, xref="x", yref="y", text=s, showarrow=False, xanchor=anchor, yanchor="middle",
                    font=dict(family=family, size=size, color=color, **font), align="left"))

text(42, 74, "<b>Narrative structures</b>", 84.5, "#000000", family="Lato")
text(207, 285, "<b>The New York Times</b>", 29.5, "#777777", family="Liberation Serif")
text(207, 347, "Mapping Poverty in America", 64, "#1a1a1a", family="Liberation Serif")
text(207, 405, "Data from the Census Bureau show where the poor live.", 29.8, "#333333", family="Liberation Serif")
text(896, 408, "January 4, 2014", 22, "#8a8a8a")
text(1184, 396, "VIEW", 23, "#555555")
text(1338, 381, '<span style="color:#222222">Percentage</span> below', 26.5, "#666666")
text(1338, 411, "the poverty line", 26, "#666666")
text(1652, 381, '<span style="color:#222222">Number</span> living', 26.5, "#666666")
text(1652, 411, "in poverty", 26, "#666666")
text(1750, 286, "<b>f</b>", 42, "#ffffff", anchor="center")

text(1445, 521, "Pct. below the poverty line", 27, "#222222")
text(1445, 640, "Circles are sized by number of", 25.2, "#222222")
text(1445, 670, "people below the poverty line", 25.2, "#222222")
text(1445, 721, "POVERTY THRESHOLDS IN 2012", 22, "#888888")
text(1445, 759, "$23,283", 23, "#777777")
text(1563, 759, "Family of four", 23, "#777777")
text(1445, 798, "$11,945", 23, "#777777")
text(1563, 798, "Indivdual under 65", 23, "#777777")
for tick, tx in zip(legend_ticks, legend_tick_x):
    text(tx, 591, tick, 18, "#aaaaaa", anchor="center")

text(195, 1152, "Google", 40, "#f2f2f2", family="Liberation Serif", shadow="1px 1px 2px #777777")
text(1379, 1169, "Map data ©2015 Google, INEGI", 20.5, "#555555")
text(1700, 1169, "Terms of Use", 21.5, "#555555")

for name, left in zip(thumb_names, thumb_left):
    text(left, 1217, f"<b>{name}</b>", 25.5, "#1a1a1a")
text(207, 1432, "By MATTHEW BLOCH, MATTHEW ERICSON and TOM GIRATIKANON", 23.6, "#444444")
text(207, 1466, 'Sources: Census tract-level data from the <span style="color:#1414c8"><u>2008-12 American Community Survey</u></span>, County-level data from the 2012 Small Area Income and Poverty Estimates', 23.4, "#777777")

fig.update_layout(
    width=2048, height=1536, margin=dict(l=0, r=0, t=0, b=0), showlegend=False,
    paper_bgcolor="#ffffff", plot_bgcolor="#ffffff",
    xaxis=dict(range=[0, 2048], visible=False, fixedrange=True),
    yaxis=dict(range=[1536, 0], visible=False, fixedrange=True),
    shapes=shapes, annotations=ann,
)

post = """
document.body.style.margin='0';
document.querySelectorAll('.textpoint text').forEach(function(t){
  var s=t.textContent;
  if(s===s.toUpperCase() && s.length>2){t.style.letterSpacing='3.5px';}
});
"""
fig.write_html("out.html", post_script=post, config={"displayModeBar": False})
